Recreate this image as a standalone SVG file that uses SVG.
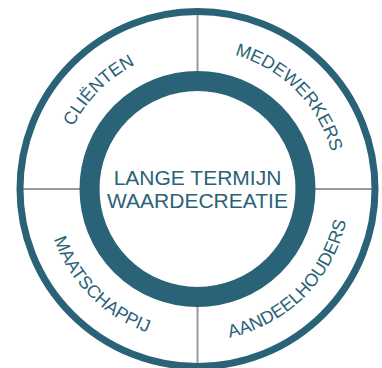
<svg xmlns="http://www.w3.org/2000/svg" width="382" height="368" viewBox="0 0 382 368">
<style>
.ring{fill:none;stroke:#2a6277}
.div{stroke:#9a9a9a;stroke-width:2}
.lbl{font-family:"Liberation Sans",Arial,sans-serif;fill:#2a6277;font-size:18px}
.ctr{font-family:"Liberation Sans",Arial,sans-serif;fill:#2a6277;font-size:21px;text-anchor:middle}
</style>
<defs>
<path id="pTL" d="M58.5,189 A139,139 0 0 1 197.5,50"/>
<path id="pTR" d="M197.5,50 A139,139 0 0 1 336.5,189"/>
<path id="pBL" d="M45.5,189 A152,152 0 0 0 197.5,341"/>
<path id="pBR" d="M197.5,341 A152,152 0 0 0 349.5,189"/>
</defs>
<rect width="382" height="368" fill="#fff"/>
<g id="connectors">
<line class="div" x1="197.5" y1="12" x2="197.5" y2="366"/>
<line class="div" x1="19" y1="189" x2="376" y2="189"/>
</g>
<g id="outer-circle">
<circle class="ring" cx="197.5" cy="189" r="177.5" stroke-width="7"/>
</g>
<g id="center">
<circle cx="197.5" cy="189" r="98" fill="#fff"/>
<circle class="ring" cx="197.5" cy="189" r="108" stroke-width="20"/>
<text class="ctr" x="197.5" y="185">LANGE TERMIJN</text>
<text class="ctr" x="197.5" y="208">WAARDECREATIE</text>
</g>
<g id="clienten"><text class="lbl"><textPath href="#pTL" startOffset="50%" text-anchor="middle">CLIËNTEN</textPath></text></g>
<g id="medewerkers"><text class="lbl"><textPath href="#pTR" startOffset="50%" text-anchor="middle">MEDEWERKERS</textPath></text></g>
<g id="maatschappij"><text class="lbl"><textPath href="#pBL" startOffset="50%" text-anchor="middle">MAATSCHAPPIJ</textPath></text></g>
<g id="aandeelhouders"><text class="lbl"><textPath href="#pBR" startOffset="50%" text-anchor="middle">AANDEELHOUDERS</textPath></text></g>
</svg>
